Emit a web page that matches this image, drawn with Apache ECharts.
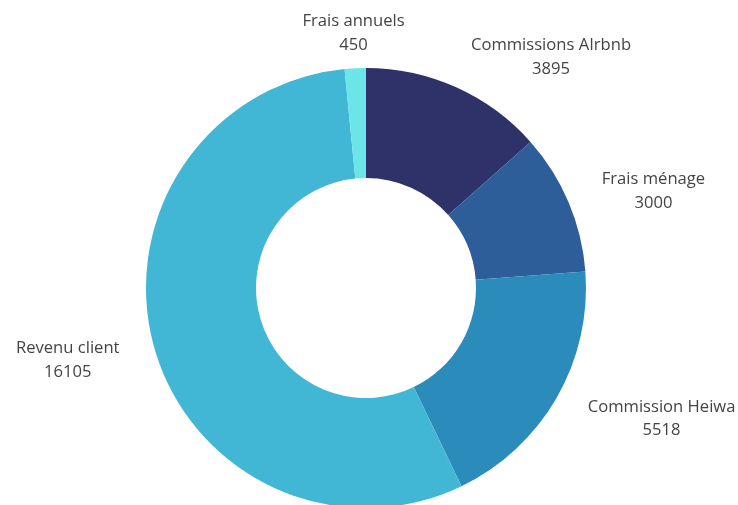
<!DOCTYPE html>
<html lang="fr">
<head>
    <meta charset="UTF-8">
    <title>Répartition des revenus</title>
    <script type="text/javascript" src="https://cdn.jsdelivr.net/npm/echarts@6/dist/echarts.min.js"></script>
    <style>
        html, body { margin: 0; padding: 0; background: #fff; }
    </style>
</head>
<body>
<div id="pie" style="width: 738px;height:505px;"></div>
<script>

    var categories = ['Commissions AIrbnb', 'Frais ménage', 'Commission Heiwa', 'Revenu client', 'Frais annuels'];
    var values = [3895, 3000, 5518, 16105, 450];
    var colors = ['#2f3268', '#2e5e99', '#2b8bbb', '#42b7d5', '#6ce5e8'];

    var data = [];
    for (var i = 0; i < categories.length; i++) {
        data.push({name: categories[i], value: values[i], itemStyle: {color: colors[i]}});
    }

    var myChart = echarts.init(document.getElementById('pie'));
    var cx = 366;

    option = {
        animation: false,
        series: [{
            type: 'pie',
            center: [cx, 288],
            radius: [110, 220],
            startAngle: 90,
            clockwise: true,
            data: data,
            label: {
                show: true,
                position: 'outside',
                formatter: '{b}\n{c}',
                fontFamily: '"Open Sans", sans-serif',
                fontSize: 16.6,
                lineHeight: 23.5,
                color: '#444',
                overflow: 'none',
                distanceToLabelLine: 0
            },
            labelLine: {
                show: false,
                length: 36,
                length2: 0
            },
            // centre les lignes du libellé, et centre au-dessus pour les parts du haut
            labelLayout: function (p) {
                var r = p.labelRect;
                var anchor = p.align === 'right' ? r.x + r.width : r.x;
                if (Math.abs(anchor - cx) < 40) {
                    return {x: anchor, align: 'center', dy: 1};
                }
                return {x: r.x + r.width / 2, align: 'center', dy: 3};
            }
        }]
    };
    myChart.setOption(option);

</script>
</body>
</html>
